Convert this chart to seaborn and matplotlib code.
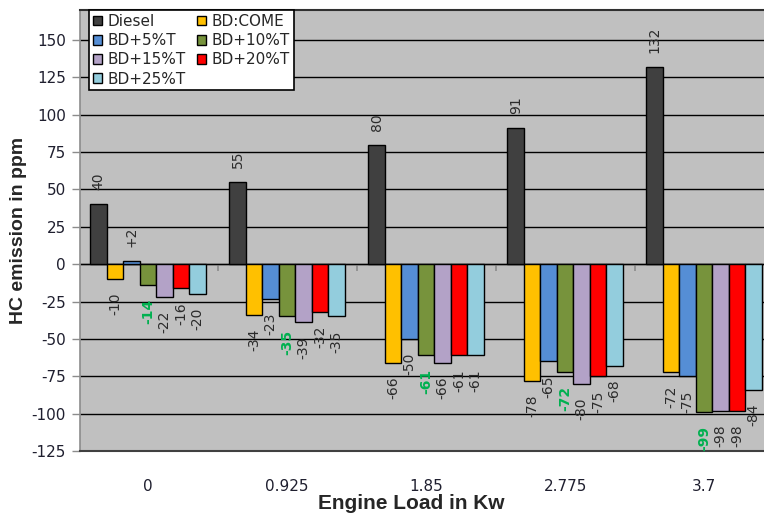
import matplotlib
matplotlib.use("Agg")
import matplotlib.pyplot as plt
from matplotlib.patches import Patch
import seaborn as sns
import pandas as pd

# Engine load categories (kW)
loads = ["0", "0.925", "1.85", "2.775", "3.7"]

# Fuel blends
fuels = ["Diesel", "BD:COME", "BD+5%T", "BD+10%T", "BD+15%T", "BD+20%T", "BD+25%T"]

# HC emission values (ppm) per fuel across the engine loads
diesel = [40, 55, 80, 91, 132]
bd_come = [-10, -34, -66, -78, -72]
bd_5t = [2, -23, -50, -65, -75]
bd_10t = [-14, -35, -61, -72, -99]
bd_15t = [-22, -39, -66, -80, -98]
bd_20t = [-16, -32, -61, -75, -98]
bd_25t = [-20, -35, -61, -68, -84]

colors = ["#404040", "#FFC000", "#558ED5", "#77933C", "#B3A2C7", "#FF0000", "#93CDDD"]

series = [diesel, bd_come, bd_5t, bd_10t, bd_15t, bd_20t, bd_25t]
df = pd.DataFrame(
    [(load, fuel, vals[i]) for fuel, vals in zip(fuels, series) for i, load in enumerate(loads)],
    columns=["load", "fuel", "hc"],
)

sns.set_style("white")
plt.rcParams["font.family"] = ["DejaVu Sans"]
plt.rcParams["axes.unicode_minus"] = False

fig = plt.figure(figsize=(7.64, 5.18), dpi=100)
ax = fig.add_axes([80 / 764, 1 - 451 / 518, 684 / 764, 441 / 518])
ax.set_facecolor("#C0C0C0")

ymin, ymax = -125, 170
ax.set_ylim(ymin, ymax)
ax.set_yticks(range(-125, 151, 25))
ax.yaxis.grid(True, color="black", linewidth=1.0)
ax.set_axisbelow(True)

sns.barplot(
    data=df, x="load", y="hc", hue="fuel", order=loads, hue_order=fuels,
    palette=colors, width=0.83, edgecolor="black", linewidth=1.0,
    saturation=1, errorbar=None, legend=False, ax=ax, zorder=3,
)
ax.set_xlim(-0.49, -0.49 + 684 / 139)

# Value labels, rotated; BD+10%T highlighted in green
for fuel, cont in zip(fuels, ax.containers):
    vals = df[df.fuel == fuel]["hc"].tolist()
    labels = []
    for v in vals:
        if v > 0 and fuel != "Diesel":
            labels.append(f"+{v}")
        else:
            labels.append(f"{v}")
    if fuel == "BD+10%T":
        ax.bar_label(cont, labels=labels, rotation=90, padding=10, fontsize=10,
                     color="#00B050", fontweight="bold", clip_on=False)
    else:
        ax.bar_label(cont, labels=labels, rotation=90, padding=10, fontsize=10,
                     color="#2b2b2b")

# Category axis drawn through zero with boundary tick marks
y0 = (0 - ymin) / (ymax - ymin)
sec = ax.secondary_xaxis(y0)
sec.set_xticks([0.5, 1.5, 2.5, 3.5, 4.5])
sec.tick_params(axis="x", direction="out", length=5, width=1.2, color="#8c8c8c",
                labelbottom=False, labeltop=False, bottom=True, top=False)
sec.spines["bottom"].set_color("#9a9a9a")
sec.spines["bottom"].set_linewidth(1.8)
sec.spines["top"].set_visible(False)

# Spines
ax.spines["right"].set_visible(False)
ax.spines["top"].set_color("#303030")
ax.spines["top"].set_linewidth(1.5)
ax.spines["left"].set_color("#8c8c8c")
ax.spines["left"].set_linewidth(1.2)
ax.spines["bottom"].set_color("#404040")
ax.spines["bottom"].set_linewidth(1.5)

ax.tick_params(axis="y", direction="out", length=6, width=1, color="#8c8c8c",
               labelsize=11, labelcolor="#1f1f2f", left=True, pad=4)
ax.tick_params(axis="x", length=0, labelsize=11, labelcolor="#1f1f2f", pad=20)

ax.set_ylabel("HC emission in ppm", fontsize=14, fontweight="bold",
              family=["Liberation Sans", "DejaVu Sans"])
ax.yaxis.set_label_coords(-0.078, 0.5)
ax.set_xlabel("Engine Load in Kw", fontsize=15, fontweight="bold",
              family=["Liberation Sans Narrow", "Liberation Sans", "DejaVu Sans"])
ax.xaxis.set_label_coords(0.484, -0.098)

# Legend laid out row by row in two columns
handles = [Patch(facecolor=c, edgecolor="black", linewidth=1.0) for c in colors]
order = [0, 2, 4, 6, 1, 3, 5]
leg = ax.legend(
    [handles[i] for i in order], [fuels[i] for i in order],
    ncol=2, loc="upper left", bbox_to_anchor=(9 / 684, 1.0),
    fontsize=11, frameon=True, fancybox=False, framealpha=1,
    edgecolor="black", facecolor="white", borderpad=0.25,
    handlelength=0.6, handleheight=0.6, handletextpad=0.35,
    labelspacing=0.28, columnspacing=0.75, borderaxespad=0,
)
leg.get_frame().set_linewidth(1.2)
leg.set_zorder(5)

fig.savefig("out.png", dpi=100, facecolor="white")
